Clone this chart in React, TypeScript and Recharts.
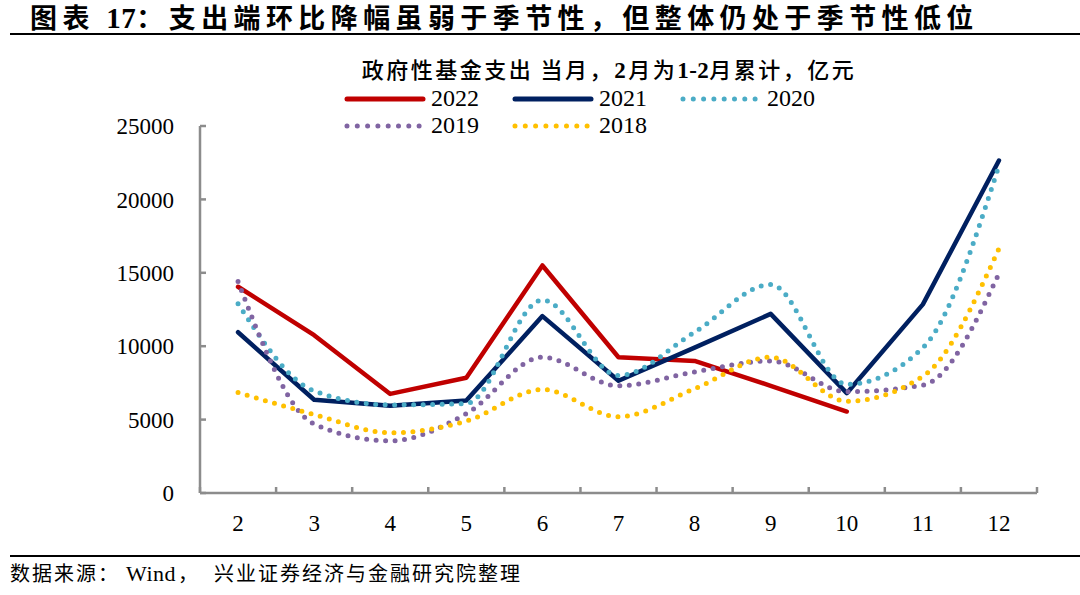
import { LineChart, Line, XAxis, YAxis } from 'recharts';

const months = ['2', '3', '4', '5', '6', '7', '8', '9', '10', '11', '12'];
const y2022 = [14050, 10750, 6750, 7850, 15500, 9250, 9000, 7300, 5550, null, null];
const y2021 = [10950, 6350, 5950, 6300, 12050, 7650, 9900, 12200, 6800, 12850, 22650];
const y2020 = [12900, 6950, 6000, 6100, 13150, 8000, 10950, 14200, 7400, 9900, 22300];
const y2019 = [14400, 4700, 3550, 5400, 9250, 7300, 8250, 9000, 6900, 7350, 14950];
const y2018 = [6850, 5350, 4100, 4900, 7050, 5200, 7100, 9250, 6250, 7950, 16650];
const yTicks = [0, 5000, 10000, 15000, 20000, 25000];

const data = months.map((m, i) => ({
    month: m,
    y2022: y2022[i],
    y2021: y2021[i],
    y2020: y2020[i],
    y2019: y2019[i],
    y2018: y2018[i],
}));

const series = [
    { key: 'y2022', name: '2022', color: '#C00000', dotted: false },
    { key: 'y2021', name: '2021', color: '#002060', dotted: false },
    { key: 'y2020', name: '2020', color: '#4BACC6', dotted: true },
    { key: 'y2019', name: '2019', color: '#8064A2', dotted: true },
    { key: 'y2018', name: '2018', color: '#FFC000', dotted: true },
];

const W = 1080;
const H = 595;
const margin = { top: 126, right: 43, bottom: 62, left: 140 };
const yAxisWidth = 60;
const plotLeft = margin.left + yAxisWidth;
const bandW = (W - plotLeft - margin.right) / months.length;
const serif = '"Liberation Serif", "Times New Roman", serif';
const cjk = '"Noto Sans CJK SC", sans-serif';
const axisColor = '#8c8c8c';

// category labels sit mid-band, tick marks go on the band edges
const MonthTick = (props: any) => {
    const { x, y, payload, index } = props;
    const axisY = y - 30;
    return (
        <g>
            <line x1={x - bandW / 2} x2={x - bandW / 2} y1={axisY} y2={axisY - 6} stroke={axisColor} strokeWidth={2.5} />
            {index === months.length - 1 && (
                <line x1={x + bandW / 2} x2={x + bandW / 2} y1={axisY} y2={axisY - 6} stroke={axisColor} strokeWidth={2.5} />
            )}
            <text x={x} y={y} dy="0.35em" textAnchor="middle" fontFamily={serif} fontSize={23} fill="#000">
                {payload.value}
            </text>
        </g>
    );
};

function LegendSample({ color, dotted }: { color: string; dotted: boolean }) {
    return (
        <svg width={82} height={10} style={{ display: 'block' }}>
            <line x1={3} x2={79} y1={5} y2={5} stroke={color} strokeWidth={5}
                strokeLinecap="round" strokeDasharray={dotted ? '0 10.3' : undefined} />
        </svg>
    );
}

export default function App() {
    return (
        <div style={{ position: 'absolute', left: 0, top: 0, width: W, height: H, background: '#fff', overflow: 'hidden' }}>
            <div style={{ position: 'absolute', left: 30, top: 0, fontFamily: cjk, fontWeight: 700, fontSize: 27, lineHeight: '34px', letterSpacing: 5.4, whiteSpace: 'nowrap', color: '#000' }}>
                图表 <span style={{ fontFamily: serif, letterSpacing: 0.5, fontSize: 29 }}>17</span>：支出端环比降幅虽弱于季节性，但整体仍处于季节性低位
            </div>
            <div style={{ position: 'absolute', left: 10, right: 0, top: 33, height: 2, background: '#000' }} />

            <div style={{ position: 'absolute', left: 0, width: 1218, top: 55, textAlign: 'center', fontFamily: cjk, fontWeight: 500, fontSize: 22, lineHeight: '26px', letterSpacing: 2.5, whiteSpace: 'nowrap', color: '#000' }}>
                政府性基金支出 当月，<b style={{ fontFamily: serif, fontSize: 23 }}>2</b>月为<b style={{ fontFamily: serif, fontSize: 23, letterSpacing: 0.5 }}>1-2</b>月累计，亿元
            </div>

            <div style={{ position: 'absolute', left: 344, top: 85, width: 520, display: 'flex', flexWrap: 'wrap' }}>
                {series.map(s => (
                    <div key={s.key} style={{ width: 168, height: 27, display: 'flex', alignItems: 'center' }}>
                        <LegendSample color={s.color} dotted={s.dotted} />
                        <span style={{ marginLeft: 5, fontFamily: serif, fontSize: 24, lineHeight: '27px' }}>{s.name}</span>
                    </div>
                ))}
            </div>

            <div style={{ position: 'absolute', left: 0, top: 0 }}>
                <LineChart width={W} height={H} data={data} margin={margin}>
                    <XAxis dataKey="month" scale="band" height={40} tickLine={false} tickSize={0} tickMargin={30}
                        axisLine={{ stroke: axisColor, strokeWidth: 2.5 }} tick={<MonthTick />} interval={0} />
                    <YAxis width={yAxisWidth} domain={[0, 25000]} ticks={yTicks} interval={0} tickSize={-6} tickMargin={32}
                        axisLine={{ stroke: axisColor, strokeWidth: 2.5 }} tickLine={{ stroke: axisColor, strokeWidth: 2.5 }}
                        tick={{ fill: '#000', fontSize: 23, fontFamily: serif }} />
                    {series.map(s => (
                        <Line key={s.key} dataKey={s.key} name={s.name} stroke={s.color}
                            type={s.dotted ? 'monotone' : 'linear'}
                            strokeWidth={s.dotted ? 5 : 4.5}
                            strokeDasharray={s.dotted ? '0 9.5' : undefined}
                            strokeLinecap="round" strokeLinejoin="round"
                            dot={false} activeDot={false} isAnimationActive={false} />
                    ))}
                </LineChart>
            </div>

            <div style={{ position: 'absolute', left: 10, right: 0, top: 555, height: 2, background: '#000' }} />
            <div style={{ position: 'absolute', left: 10, top: 561, fontFamily: cjk, fontSize: 20, lineHeight: '24px', letterSpacing: 2, whiteSpace: 'nowrap', color: '#000' }}>
                数据来源：<span style={{ fontFamily: serif, fontSize: 22, letterSpacing: 0.5, margin: '0 2px 0 6px' }}>Wind</span><span style={{ marginRight: 14 }}>，</span>兴业证券经济与金融研究院整理
            </div>
        </div>
    );
}
